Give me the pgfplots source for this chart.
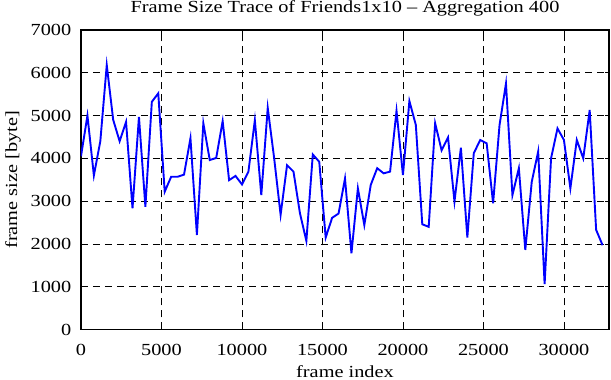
\documentclass[border=0pt]{standalone}
\usepackage{pgfplots}
\pgfplotsset{compat=1.18}
\usepackage{fontspec}
\setmainfont{Liberation Serif}[FakeStretch=1.2]
\begin{document}
\begin{tikzpicture}
\begin{axis}[
  at={(0,0)}, anchor=south west,
  scale only axis, width=528bp, height=299.5bp,
  xmin=0, xmax=32800, ymin=0, ymax=7000,
  xtick={0,5000,10000,15000,20000,25000,30000},
  ytick={0,1000,2000,3000,4000,5000,6000,7000},
  scaled ticks=false,
  /pgf/number format/1000 sep={},
  /pgf/number format/assume math mode=true,
  tick align=inside,
  major tick length=4bp,
  tick style={black, line width=0.8bp},
  axis line style={black, line width=1.3bp},
  grid=major,
  grid style={black, line width=0.8bp, dash pattern=on 7bp off 5bp},
  font=\fontsize{17}{20}\selectfont,
  xticklabel style={anchor=base, yshift=-25.5bp, inner sep=0pt},
  yticklabel style={anchor=east, inner sep=0pt, xshift=-9.5bp},
  every axis title shift=0pt,
  title={Frame Size Trace of Friends1x10 -- Aggregation 400},
  title style={at={(axis description cs:0.5,1.0591)}, anchor=base, inner sep=0pt},
  xlabel={frame index},
  xlabel style={at={(axis description cs:0.5,-0.1586)}, anchor=base, inner sep=0pt},
  ylabel={frame size [byte]},
  ylabel style={at={(axis description cs:-0.1212,0.5)}, anchor=base, inner sep=0pt},
]
\addplot[color={rgb,255:red,0;green,0;blue,255}, line width=1.9bp, no marks] table {
x y
0 4050
400 5000
800 3600
1200 4400
1600 6180
2000 4900
2400 4400
2800 4850
3200 2830
3600 4970
4000 2870
4400 5320
4800 5520
5200 3220
5600 3570
6000 3570
6400 3620
6800 4470
7200 2210
7600 4820
8000 3960
8400 4010
8800 4870
9200 3490
9600 3590
10000 3390
10400 3690
10800 4890
11200 3140
11600 5180
12000 4000
12400 2680
12800 3840
13200 3690
13600 2720
14000 2070
14400 4090
14800 3920
15200 2150
15600 2610
16000 2710
16400 3530
16800 1780
17200 3300
17600 2440
18000 3380
18400 3770
18800 3650
19200 3690
19600 5110
20000 3610
20400 5340
20800 4780
21200 2460
21600 2400
22000 4820
22400 4190
22800 4490
23200 2990
23600 4250
24000 2150
24400 4120
24800 4430
25200 4350
25600 2950
26000 4780
26400 5750
26800 3140
27200 3770
27600 1860
28000 3450
28400 4160
28800 1060
29200 4000
29600 4700
30000 4430
30400 3300
30800 4430
31200 4000
31600 5130
32000 2330
32400 1970
};
\end{axis}
\pgfresetboundingbox
\path[use as bounding box] (-81bp,-50.5bp) rectangle (530bp,329.5bp);
\end{tikzpicture}
\end{document}
